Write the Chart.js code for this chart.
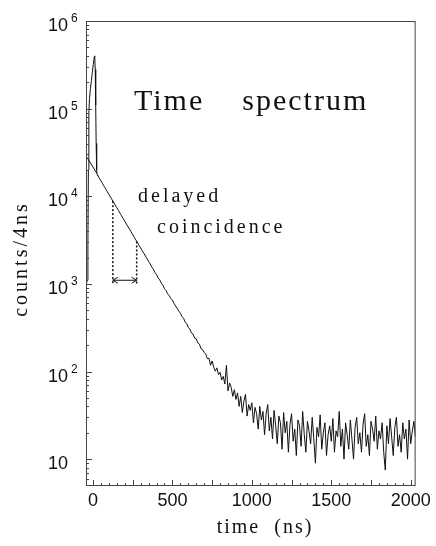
<!DOCTYPE html>
<html>
<head>
<meta charset="utf-8">
<script src="https://cdn.jsdelivr.net/npm/chart.js@4.4.0/dist/chart.umd.min.js"></script>
<style>
  html, body { margin: 0; padding: 0; background: #fff; }
  #wrap { width: 436px; height: 546px; }
</style>
</head>
<body>
<div id="wrap"><canvas id="chart" width="436" height="546"></canvas></div>
<script>
// prompt peak (ns, counts per 4 ns)
const promptTimes  = [-42, -36, -32, -29, -26, -22, -16, -10, -4, 2, 8, 11, 14, 17, 20, 23, 26];
const promptCounts = [1000, 1100, 3000, 20000, 90000, 130000, 170000, 210000, 260000, 320000, 390000, 400000, 280000, 110000, 40000, 20000, 17500];

// delayed part, one value every 10 ns starting at 30 ns
const decayStart = 30;
const decayStep = 10;
const decayCounts = [
  17200, 16060, 14970, 13950, 13000, 12110, 11290, 10520, 9800, 9140,
  8510, 7930, 7390, 6890, 6420, 5980, 5580, 5200, 4840, 4510,
  4210, 3920, 3650, 3400, 3170, 2960, 2750, 2570, 2390, 2230,
  2080, 1940, 1800, 1690, 1560, 1470, 1350, 1280, 1170, 1110,
  1020, 965, 880, 840, 770, 735, 680,
  655, 600, 560, 525, 490, 462, 425, 405, 368, 352,
  318, 305, 275, 268, 240, 236, 212, 205, 182, 178,
  165, 158, 140, 142, 118, 132, 112, 101, 110, 92,
  98, 80, 88, 72, 118, 60, 74, 66, 52, 62,
  48, 57, 40, 52, 34, 46, 55, 31, 42, 36,
  44, 26, 39, 33, 22, 40, 28, 35, 19, 33,
  42, 21, 30, 17, 36, 24, 15, 31, 26, 13,
  34, 20, 27, 12, 25, 33, 16, 22, 11, 28,
  24, 14, 35, 19, 12, 27, 21, 15, 30, 17,
  9, 23, 18, 32, 13, 20, 26, 11, 19, 24,
  16, 29, 12, 21, 18, 35, 14, 22, 10, 26,
  19, 13, 28, 17, 10, 23, 30, 15, 20, 12,
  25, 33, 14, 19, 11, 27, 22, 16, 31, 13,
  21, 17, 26, 12, 7.5, 24, 15, 29, 18, 11,
  23, 30, 14, 19, 12, 26, 17, 22, 10, 28,
  15, 21, 27, 18
];

// exponential extended under the prompt peak
const fitTimes  = [-38, 24];
const fitCounts = [27800, 18300];

// time window of the delayed coincidence
const windowTimes     = [125, 275];
const windowTopCounts = [8800, 3050];
const windowBase = 1000;
const arrowLevel = 1100;

const xTickValues = [0, 500, 1000, 1500, 2000];
const yTickExponents = [1, 2, 3, 4, 5, 6];

const decayTimes = decayCounts.map((_, i) => decayStart + i * decayStep);
const spectrum = promptTimes.map((t, i) => ({ x: t, y: promptCounts[i] }))
  .concat(decayTimes.map((t, i) => ({ x: t, y: decayCounts[i] })));

const ink = '#111';

const decor = {
  id: 'decor',
  afterDraw(chart) {
    const { ctx, chartArea: a, scales: { x, y } } = chart;
    ctx.save();
    ctx.strokeStyle = '#444';
    ctx.lineWidth = 1;
    ctx.strokeRect(a.left + 0.5, a.top + 0.5, a.right - a.left - 1, a.bottom - a.top);

    // inward ticks on the log axis
    ctx.beginPath();
    for (let e = 0; e <= 6; e++) {
      for (let m = 1; m <= 9; m++) {
        const v = m * Math.pow(10, e);
        if (v < y.min || v > y.max) continue;
        const py = Math.round(y.getPixelForValue(v)) + 0.5;
        const len = m === 1 ? 6 : 3;
        ctx.moveTo(a.left, py); ctx.lineTo(a.left + len, py);
      }
    }
    // inward ticks on the time axis
    for (let t = 0; t <= 2000; t += 50) {
      const px = Math.round(x.getPixelForValue(t)) + 0.5;
      const len = t % 250 === 0 ? 5 : 2;
      ctx.moveTo(px, a.bottom); ctx.lineTo(px, a.bottom - len);
    }
    ctx.stroke();

    // y labels 10^n
    ctx.fillStyle = ink;
    yTickExponents.forEach(e => {
      const py = y.getPixelForValue(Math.pow(10, e));
      ctx.font = '18px "Liberation Sans"';
      ctx.textAlign = 'right';
      ctx.textBaseline = 'alphabetic';
      ctx.fillText('10', 68, py + 10);
      if (e > 1) {
        ctx.font = '12px "Liberation Sans"';
        ctx.textAlign = 'left';
        ctx.fillText(String(e), 71, py + 1);
      }
    });

    // arrow heads of the window
    const ay = y.getPixelForValue(arrowLevel);
    const x1 = x.getPixelForValue(windowTimes[0]);
    const x2 = x.getPixelForValue(windowTimes[1]);
    ctx.strokeStyle = ink;
    ctx.beginPath();
    ctx.moveTo(x1 + 5, ay - 3); ctx.lineTo(x1, ay); ctx.lineTo(x1 + 5, ay + 3);
    ctx.moveTo(x2 - 5, ay - 3); ctx.lineTo(x2, ay); ctx.lineTo(x2 - 5, ay + 3);
    ctx.stroke();

    // texts
    ctx.textAlign = 'left';
    ctx.font = '30px "Liberation Serif"';
    ctx.letterSpacing = '2px';
    ctx.fillText('Time    spectrum', 134, 110);
    ctx.font = '20px "Liberation Serif"';
    ctx.letterSpacing = '3px';
    ctx.fillText('delayed', 138, 202);
    ctx.fillText('coincidence', 157, 233);

    ctx.letterSpacing = '2px';
    ctx.textAlign = 'center';
    ctx.font = '20px "Liberation Serif"';
    ctx.fillText('time  (ns)', 265, 533);

    ctx.save();
    ctx.translate(27, 259);
    ctx.rotate(-Math.PI / 2);
    ctx.letterSpacing = '3px';
    ctx.fillText('counts/4ns', 0, 0);
    ctx.restore();

    ctx.restore();
  }
};

const dotted = (i) => ({
  data: [{ x: windowTimes[i], y: windowTopCounts[i] }, { x: windowTimes[i], y: windowBase }],
  borderColor: ink, borderWidth: 1.5, borderDash: [2, 2], pointRadius: 0
});

new Chart(document.getElementById('chart'), {
  type: 'line',
  data: {
    datasets: [
      { data: spectrum, borderColor: ink, borderWidth: 1, pointRadius: 0, tension: 0 },
      { data: fitTimes.map((t, i) => ({ x: t, y: fitCounts[i] })), borderColor: ink, borderWidth: 1, pointRadius: 0 },
      dotted(0),
      dotted(1),
      { data: windowTimes.map(t => ({ x: t, y: arrowLevel })), borderColor: ink, borderWidth: 1, pointRadius: 0 }
    ]
  },
  options: {
    responsive: false,
    animation: false,
    devicePixelRatio: 1,
    layout: { padding: { top: 21, right: 18, left: 0, bottom: 0 } },
    plugins: { legend: { display: false }, tooltip: { enabled: false } },
    scales: {
      x: {
        type: 'linear', min: -44, max: 2031,
        afterBuildTicks: s => { s.ticks = xTickValues.map(v => ({ value: v })); },
        afterFit: s => { s.height = 61; },
        grid: { display: false, drawTicks: false },
        border: { display: false },
        ticks: { color: ink, padding: 5, maxRotation: 0, autoSkip: false,
                 callback: v => String(v),
                 font: { family: 'Liberation Sans', size: 18 } }
      },
      y: {
        type: 'logarithmic', min: 5.07, max: 1e6,
        afterFit: s => { s.width = 86; },
        grid: { display: false },
        border: { display: false },
        ticks: { display: false }
      }
    }
  },
  plugins: [decor]
});
</script>
</body>
</html>
